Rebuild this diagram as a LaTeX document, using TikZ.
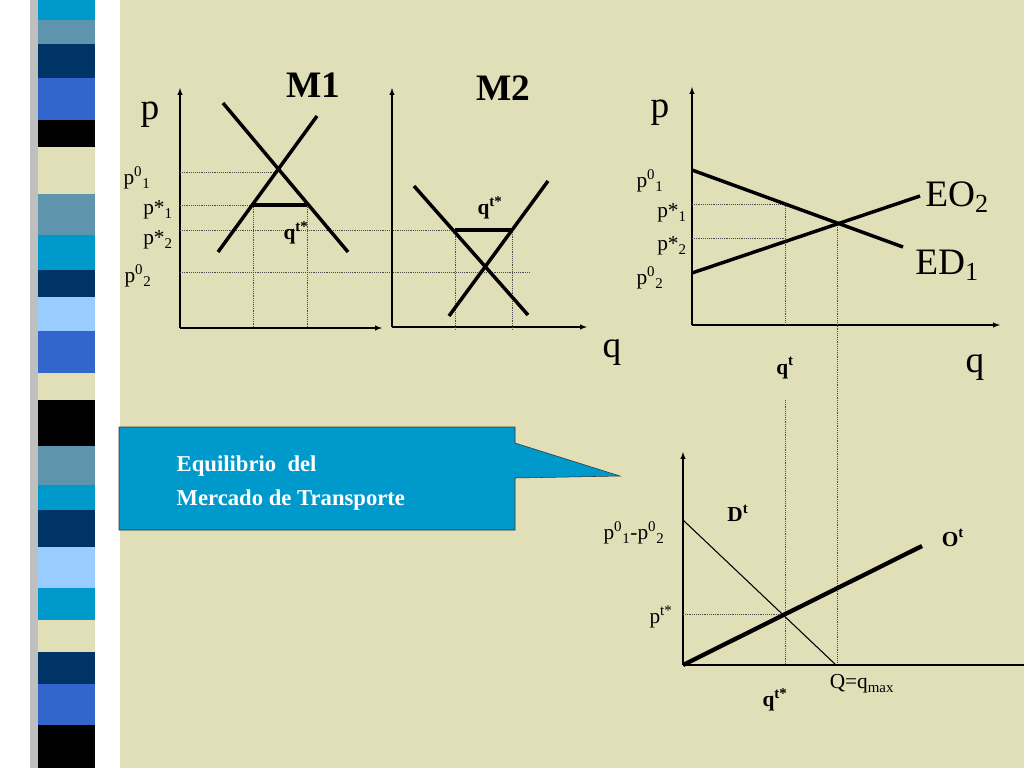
\documentclass[tikz,border=0pt]{standalone}
\usepackage{fontspec}
\setmainfont{Liberation Serif}
\usepackage{tikz}
\usetikzlibrary{positioning}
\definecolor{bgbeige}{HTML}{E0DFB8}
\definecolor{stcyan}{HTML}{0099CC}
\definecolor{ststeel}{HTML}{5F94AD}
\definecolor{stnavy}{HTML}{003366}
\definecolor{stroyal}{HTML}{3366CC}
\definecolor{stlight}{HTML}{99CCFF}
\definecolor{stcream}{HTML}{E0DFB8}
\tikzset{
  axis/.style={thick,-latex},
  curve/.style={line width=2.6pt},
  guide/.style={densely dotted,thin,black!70},
  lbl/.style={inner sep=0pt,font=\fontsize{16}{18}\selectfont},
  biglbl/.style={inner sep=0pt,font=\fontsize{28}{32}\selectfont},
  boldlbl/.style={inner sep=0pt,font=\fontsize{16}{18}\selectfont\bfseries}
}
\newcommand{\pri}[2]{p\textsuperscript{#1}\textsubscript{#2}}
\begin{document}
\begin{tikzpicture}[x=0.75pt,y=-0.75pt]
  \useasboundingbox (0,0) rectangle (1024,768);
  \fill[white] (0,0) rectangle (120,768);
  \fill[bgbeige] (120,0) rectangle (1024,768);
  \fill[black!25] (30,0) rectangle (40,768);
  % stripes
  \foreach \ya/\yb/\col in {0/20/stcyan,20/44/ststeel,44/78/stnavy,78/120/stroyal,
      120/147/black,147/194/stcream,194/235/ststeel,235/270/stcyan,270/297/stnavy,
      297/331/stlight,331/373/stroyal,373/400/stcream,400/446/black,446/485/ststeel,
      485/510/stcyan,510/547/stnavy,547/588/stlight,588/620/stcyan,620/652/stcream,
      652/684/stnavy,684/725/stroyal,725/768/black}
    \fill[\col] (38,\ya) rectangle (95,\yb);

  % M1
  \coordinate (o1) at (180,328);
  \draw[axis] (o1) -- (180,88);
  \draw[axis] (o1) -- (382,328);
  \draw[guide] (180,172) -- (278,172);
  \draw[guide] (180,205) -- (307,205);
  \draw[guide] (180,230) -- (512,230);
  \draw[guide] (180,272) -- (530,272);
  \draw[guide] (253,205) -- (253,328);
  \draw[guide] (307,205) -- (307,328);
  \draw[curve] (223,103) -- (348,252);
  \draw[curve] (218,252) -- (317,116);
  \draw[curve] (253,205) -- (307,205);
  \node[biglbl] (p1) at (150,115) {p};
  \node[lbl] (p01) at (137,178) {\pri{0}{1}};
  \node[lbl] (ps1) at (158,210) {p*\textsubscript{1}};
  \node[lbl] (ps2) at (158,240) {p*\textsubscript{2}};
  \node[lbl] (p02) at (138,276) {\pri{0}{2}};
  \node[biglbl,font=\fontsize{28}{32}\selectfont\bfseries] (m1) at (313,85) {M1};
  \node[boldlbl] (qt1) at (296,233) {q\textsuperscript{t*}};

  % M2
  \coordinate (o2) at (392,327);
  \draw[axis] (o2) -- (392,88);
  \draw[axis] (o2) -- (587,327);
  \draw[guide] (455,230) -- (455,330);
  \draw[guide] (512,230) -- (512,330);
  \draw[curve] (414,186) -- (528,315);
  \draw[curve] (449,316) -- (548,181);
  \draw[curve] (455,230) -- (512,230);
  \node[biglbl,font=\fontsize{28}{32}\selectfont\bfseries] (m2) at (503,88) {M2};
  \node[boldlbl] (qt2) at (490,208) {q\textsuperscript{t*}};
  \node[biglbl] (q1) at (612,352) {q};

  % excedentes
  \coordinate (o3) at (692,325);
  \draw[axis] (o3) -- (692,87);
  \draw[axis] (o3) -- (1000,325);
  \draw[guide] (692,204) -- (785,204) -- (785,325);
  \draw[guide] (692,238) -- (785,238);
  \draw[guide] (837,223) -- (837,665);
  \draw[guide] (785,400) -- (785,665);
  \draw[curve] (692,170) -- (903,247);
  \draw[curve] (692,273) -- (920,196);
  \node[biglbl] (p3) at (660,113) {p};
  \node[lbl] (p01b) at (650,181) {\pri{0}{1}};
  \node[lbl] (ps1b) at (672,213) {p*\textsubscript{1}};
  \node[lbl] (ps2b) at (672,246) {p*\textsubscript{2}};
  \node[lbl] (p02b) at (650,278) {\pri{0}{2}};
  \node[biglbl] (eo) at (957,197) {EO\textsubscript{2}};
  \node[biglbl] (ed) at (947,265) {ED\textsubscript{1}};
  \node[boldlbl] (qt3) at (785,368) {q\textsuperscript{t}};
  \node[biglbl] (q3) at (975,367) {q};

  % transporte
  \coordinate (o4) at (683,665);
  \draw[axis] (o4) -- (683,452);
  \draw[thick] (o4) -- (1024,665);
  \draw[guide] (683,614) -- (785,614);
  \draw[thick] (683,520) -- (836,665);
  \draw[line width=3.2pt] (o4) -- (922,546);
  \node[boldlbl] (dt) at (738,513) {D\textsuperscript{t}};
  \node[lbl] (pdif) at (634,533) {\pri{0}{1}-\pri{0}{2}};
  \node[boldlbl] (ot) at (953,538) {O\textsuperscript{t}};
  \node[lbl] (pt) at (661,617) {p\textsuperscript{t*}};
  \node[boldlbl] (qt4) at (775,700) {q\textsuperscript{t*}};
  \node[lbl] (qmax) at (862,684) {Q=q\textsubscript{max}};

  % nota
  \draw[fill=stcyan,draw=black!80] (119,427) -- (515,427) -- (515,443) -- (620,476)
     -- (515,478) -- (515,530) -- (119,530) -- cycle;
  \node[align=left,anchor=west,text=white,font=\fontsize{17}{25}\selectfont\bfseries]
     (nota) at (172,483) {Equilibrio\ \ del\\Mercado de Transporte};
\end{tikzpicture}
\end{document}
